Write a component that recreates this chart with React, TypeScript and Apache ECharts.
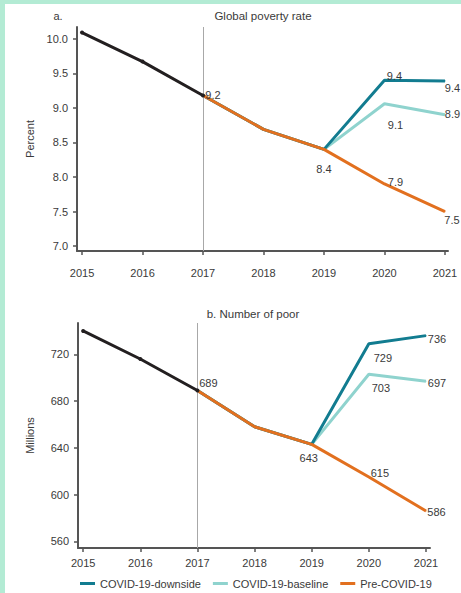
import React, { useEffect, useRef } from "react";
import * as echarts from "echarts";

const years = [2015, 2016, 2017, 2018, 2019, 2020, 2021];
const histYears = [2015, 2016, 2017];
const projYears = [2017, 2018, 2019, 2020, 2021];

// Panel a: global poverty rate (percent)
const rateHist = [10.09, 9.67, 9.18];
const ratePre = [9.18, 8.69, 8.4, 7.9, 7.5];
const rateBaseline = [9.18, 8.69, 8.4, 9.06, 8.9];
const rateDownside = [9.18, 8.69, 8.4, 9.4, 9.39];
const rateTicks = [7.0, 7.5, 8.0, 8.5, 9.0, 9.5, 10.0];

// Panel b: number of poor (millions)
const poorHist = [740, 716, 689];
const poorPre = [689, 658, 643, 615, 586];
const poorBaseline = [689, 658, 643, 703, 697];
const poorDownside = [689, 658, 643, 729, 736];
const poorTicks = [560, 600, 640, 680, 720];

const legendNames = ["COVID-19-downside", "COVID-19-baseline", "Pre-COVID-19"];

const FONT = "'Liberation Sans Narrow', 'Liberation Sans', Arial, sans-serif";
const FS = 11;
const TEXT = "#3a3a3a";
const AXIS = "#555";
const C_HIST = "#231f20";
const C_PRE = "#e2701f";
const C_DOWN = "#127c90";
const C_BASE = "#8fd3ce";

// label offsets (px) per point index
const labelOffsets: Record<string, Record<number, number[]>> = {
  rateHist: { 2: [10, 0] },
  ratePre: { 2: [0, 20], 3: [11, -2], 4: [7, 8] },
  rateBaseline: { 3: [11, 21], 4: [7.5, -1] },
  rateDownside: { 3: [10, -4], 4: [7.5, 7] },
  poorHist: { 2: [11, -8] },
  poorPre: { 2: [-3, 14], 3: [11, -4], 4: [10.5, 1] },
  poorBaseline: { 3: [12, 14], 4: [11, 2] },
  poorDownside: { 3: [14, 14], 4: [11, 3] },
};

function mkSeries(
  key: string,
  name: string,
  xs: number[],
  ys: number[],
  color: string,
  z: number,
  idx: number,
  decimals: number
) {
  const offs = labelOffsets[key] || {};
  return {
    type: "line",
    name,
    xAxisIndex: idx,
    yAxisIndex: idx,
    z,
    showSymbol: true,
    symbol: "circle",
    symbolSize: key.endsWith("Hist") ? 4 : 1,
    lineStyle: { color, width: 3 },
    itemStyle: { color },
    emphasis: { disabled: true },
    data: xs.map((x, i) => ({
      value: [x, ys[i]],
      label: offs[i]
        ? {
            show: true,
            position: "inside",
            offset: offs[i],
            formatter: ys[i].toFixed(decimals),
            color: TEXT,
            fontSize: FS,
            fontFamily: FONT,
          }
        : { show: false },
    })),
  };
}

function xAxisCfg(idx: number, min: number, max: number, margin: number) {
  return {
    type: "value",
    gridIndex: idx,
    min,
    max,
    axisLine: { show: true, lineStyle: { color: AXIS, width: 2 } },
    axisTick: { show: true, customValues: years, length: 4, lineStyle: { color: AXIS, width: 1.5 } },
    axisLabel: {
      customValues: years,
      formatter: (v: number) => String(Math.round(v)),
      margin,
      color: TEXT,
      fontSize: FS,
      fontFamily: FONT,
    },
    splitLine: { show: false },
  };
}

function yAxisCfg(
  idx: number,
  min: number,
  max: number,
  ticks: number[],
  name: string,
  gap: number,
  decimals: number
) {
  return {
    type: "value",
    gridIndex: idx,
    min,
    max,
    name,
    nameLocation: "middle",
    nameGap: gap,
    nameTextStyle: { color: TEXT, fontSize: FS, fontFamily: FONT },
    axisLine: { show: true, lineStyle: { color: AXIS, width: 2 } },
    axisTick: { show: true, customValues: ticks, length: 4, lineStyle: { color: AXIS, width: 1.5 } },
    axisLabel: {
      customValues: ticks,
      formatter: (v: number) => v.toFixed(decimals),
      margin: 9,
      color: TEXT,
      fontSize: FS,
      fontFamily: FONT,
    },
    splitLine: { show: false },
  };
}

const vline = {
  silent: true,
  symbol: ["none", "none"],
  label: { show: false },
  lineStyle: { color: "#a8a8a8", width: 1, type: "solid" },
  data: [{ xAxis: 2017 }],
};

export default function App() {
  const ref = useRef<HTMLDivElement>(null);
  useEffect(() => {
    if (!ref.current) return;
    const chart = echarts.init(ref.current, null, { renderer: "svg" });
    const series: any[] = [
      mkSeries("rateBaseline", legendNames[1], projYears, rateBaseline, C_BASE, 2, 0, 1),
      mkSeries("rateDownside", legendNames[0], projYears, rateDownside, C_DOWN, 3, 0, 1),
      mkSeries("ratePre", legendNames[2], projYears, ratePre, C_PRE, 4, 0, 1),
      mkSeries("rateHist", "Historical", histYears, rateHist, C_HIST, 5, 0, 1),
      mkSeries("poorBaseline", legendNames[1], projYears, poorBaseline, C_BASE, 2, 1, 0),
      mkSeries("poorDownside", legendNames[0], projYears, poorDownside, C_DOWN, 3, 1, 0),
      mkSeries("poorPre", legendNames[2], projYears, poorPre, C_PRE, 4, 1, 0),
      mkSeries("poorHist", "Historical", histYears, poorHist, C_HIST, 5, 1, 0),
    ];
    series[0].markLine = vline;
    series[4].markLine = vline;

    chart.setOption({
      animation: false,
      backgroundColor: "#ffffff",
      textStyle: { fontFamily: FONT },
      grid: [
        { left: 77, top: 27, width: 371, height: 224 },
        { left: 78, top: 323, width: 352, height: 225 },
      ],
      xAxis: [xAxisCfg(0, 2014.917, 2021.05, 16), xAxisCfg(1, 2014.91, 2021.07, 9)],
      yAxis: [
        yAxisCfg(0, 6.93, 10.17, rateTicks, "Percent", 42, 1),
        yAxisCfg(1, 554.3, 746.8, poorTicks, "Millions", 43, 0),
      ],
      legend: {
        data: legendNames,
        left: 80,
        top: 578,
        padding: 0,
        icon: "rect",
        itemWidth: 15,
        itemHeight: 3,
        itemGap: 12,
        selectedMode: false,
        textStyle: { color: TEXT, fontSize: FS, fontFamily: FONT },
      },
      graphic: [
        { type: "rect", shape: { x: 0, y: 0, width: 461, height: 4 }, style: { fill: "#b3ebd4" } },
        { type: "rect", shape: { x: 0, y: 0, width: 5, height: 593 }, style: { fill: "#b3ebd4" } },
        {
          type: "text",
          x: 58,
          y: 16,
          style: { text: "a.", align: "center", verticalAlign: "middle", fontSize: FS, fontFamily: FONT, fill: TEXT },
        },
        {
          type: "text",
          x: 263,
          y: 16,
          style: { text: "Global poverty rate", align: "center", verticalAlign: "middle", fontSize: 11.5, fontFamily: FONT, fill: TEXT },
        },
        {
          type: "text",
          x: 253,
          y: 314,
          style: { text: "b. Number of poor", align: "center", verticalAlign: "middle", fontSize: 11.5, fontFamily: FONT, fill: TEXT },
        },
      ],
      series,
    });
    return () => chart.dispose();
  }, []);
  return (
    <div
      ref={ref}
      style={{ position: "absolute", left: 0, top: 0, width: 461, height: 593, background: "#fff" }}
    />
  );
}
